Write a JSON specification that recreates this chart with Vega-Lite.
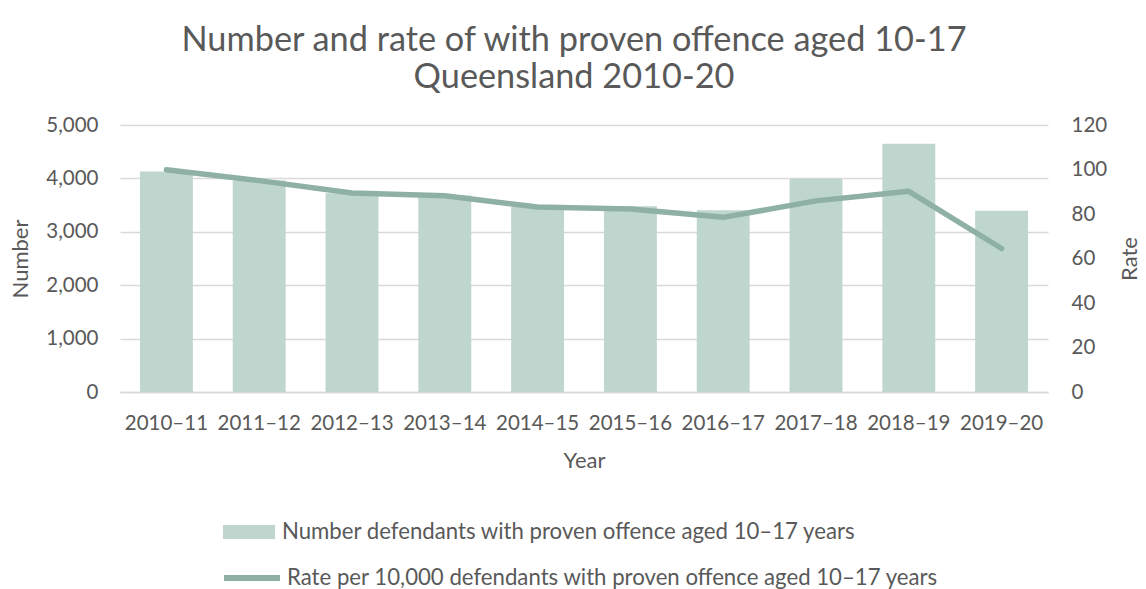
{
  "$schema": "https://vega.github.io/schema/vega-lite/v6.json",
  "width": 928,
  "height": 267,
  "autosize": {"type": "none"},
  "padding": {"left": 120, "top": 125, "right": 98, "bottom": 197},
  "background": "white",
  "config": {
    "font": "Lato",
    "view": {"stroke": null},
    "axis": {
      "labelFont": "Lato",
      "titleFont": "Lato",
      "labelColor": "#595959",
      "titleColor": "#595959",
      "labelFontSize": 20.5,
      "titleFontSize": 22,
      "titleFontWeight": "normal",
      "ticks": false,
      "tickSize": 0
    },
    "legend": {
      "labelFont": "Lato",
      "labelColor": "#595959",
      "labelFontSize": 22.2,
      "labelLimit": 900
    }
  },
  "title": {
    "text": ["Number and rate of with proven offence aged 10-17", "Queensland 2010-20"],
    "font": "Lato",
    "fontSize": 34.3,
    "fontWeight": "normal",
    "color": "#595959",
    "anchor": "middle",
    "lineHeight": 37,
    "offset": 20,
    "dx": -10
  },
  "data": {
    "values": [
      {"year": "2010–11", "number": 4127, "rate": 99.9},
      {"year": "2011–12", "number": 3960, "rate": 95.0},
      {"year": "2012–13", "number": 3720, "rate": 89.4},
      {"year": "2013–14", "number": 3680, "rate": 88.2},
      {"year": "2014–15", "number": 3465, "rate": 83.1},
      {"year": "2015–16", "number": 3480, "rate": 82.2},
      {"year": "2016–17", "number": 3405, "rate": 78.5},
      {"year": "2017–18", "number": 3995, "rate": 85.9},
      {"year": "2018–19", "number": 4648, "rate": 90.2},
      {"year": "2019–20", "number": 3392, "rate": 64.5}
    ]
  },
  "encoding": {
    "x": {
      "field": "year",
      "type": "ordinal",
      "sort": null,
      "scale": {"paddingInner": 0.43, "paddingOuter": 0.215},
      "axis": {
        "title": "Year",
        "labelAngle": 0,
        "labelPadding": 21,
        "titlePadding": 17,
        "domain": true,
        "domainColor": "#d9d9d9",
        "domainWidth": 1.5,
        "grid": false
      }
    }
  },
  "layer": [
    {
      "mark": {"type": "bar", "fill": "#bfd6cf"},
      "encoding": {
        "y": {
          "field": "number",
          "type": "quantitative",
          "scale": {"domain": [0, 5000], "nice": false},
          "axis": {
            "title": "Number",
            "values": [0, 1000, 2000, 3000, 4000, 5000],
            "format": ",.0f",
            "grid": true,
            "gridColor": "#d9d9d9",
            "gridWidth": 1.5,
            "domain": false,
            "labelPadding": 22,
            "titlePadding": 13
          }
        },
        "fill": {
          "datum": "Number defendants with proven offence aged 10–17 years",
          "type": "nominal",
          "scale": {"range": ["#bfd6cf"]},
          "legend": {
            "title": null,
            "orient": "none",
            "legendX": 103,
            "legendY": 381,
            "symbolType": "M-1,-0.27H1V0.27H-1Z",
            "symbolSize": 2704,
            "symbolStrokeWidth": 0,
            "labelOffset": 7
          }
        }
      }
    },
    {
      "mark": {"type": "line", "strokeWidth": 5.5, "strokeCap": "round", "strokeJoin": "round"},
      "encoding": {
        "y": {
          "field": "rate",
          "type": "quantitative",
          "scale": {"domain": [0, 120], "nice": false},
          "axis": {
            "title": "Rate",
            "orient": "right",
            "values": [0, 20, 40, 60, 80, 100, 120],
            "grid": false,
            "domain": false,
            "labelPadding": 23,
            "titlePadding": 35,
            "titleAngle": 270
          }
        },
        "stroke": {
          "datum": "Rate per 10,000 defendants with proven offence aged 10–17 years",
          "type": "nominal",
          "scale": {"range": ["#8fb0a6"]},
          "legend": {
            "title": null,
            "orient": "none",
            "legendX": 101,
            "legendY": 422,
            "symbolType": "stroke",
            "symbolSize": 3136,
            "symbolStrokeWidth": 6,
            "labelOffset": 4
          }
        }
      }
    }
  ],
  "resolve": {"scale": {"y": "independent"}}
}
